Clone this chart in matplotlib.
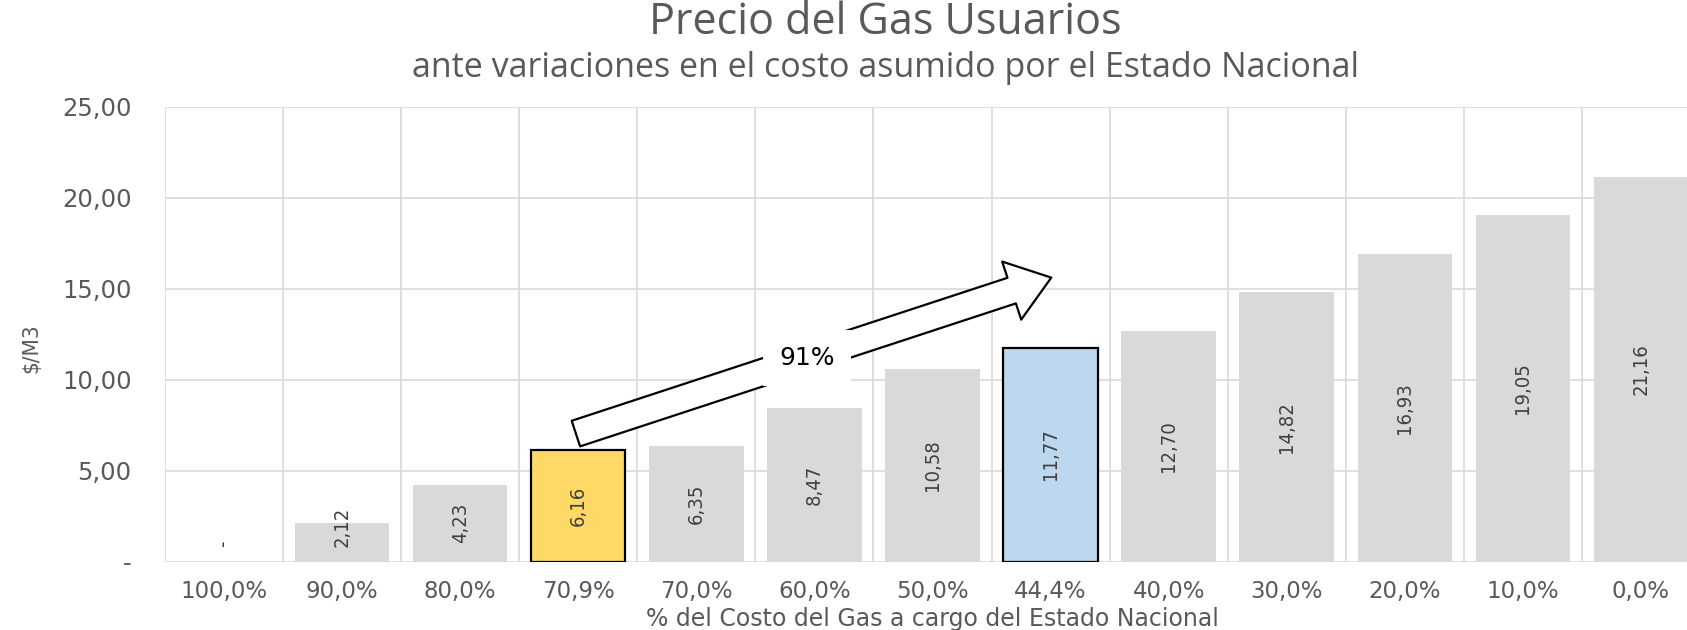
import numpy as np
import matplotlib.pyplot as plt
from matplotlib.patches import FancyArrowPatch

# --- Data --- #
categories = ['100,0%', '90,0%', '80,0%', '70,9%', '70,0%', '60,0%', '50,0%',
              '44,4%', '40,0%', '30,0%', '20,0%', '10,0%', '0,0%']
precios = [0.00, 2.12, 4.23, 6.16, 6.35, 8.47, 10.58, 11.77, 12.70, 14.82, 16.93, 19.05, 21.16]
bar_labels = ['-', '2,12', '4,23', '6,16', '6,35', '8,47', '10,58', '11,77',
              '12,70', '14,82', '16,93', '19,05', '21,16']
y_ticks = [0, 5, 10, 15, 20, 25]
y_tick_labels = ['-', '5,00', '10,00', '15,00', '20,00', '25,00']
idx_actual = 3      # 70,9% (yellow)
idx_nuevo = 7       # 44,4% (blue)
variacion = '91%'

gris_texto = '#595959'
gris_barra = '#D9D9D9'

# --- Figure --- #
fig = plt.figure(figsize=(16.87, 6.30), dpi=100)
ax = fig.add_axes([0.0978, 0.1084, 0.9099, 0.7222])

x = np.arange(len(categories))
colors = [gris_barra] * len(categories)
colors[idx_actual] = '#FFD966'
colors[idx_nuevo] = '#BDD7EE'
edges = ['none'] * len(categories)
edges[idx_actual] = 'black'
edges[idx_nuevo] = 'black'

bars = ax.bar(x, precios, width=0.8, color=colors, edgecolor=edges, linewidth=1.6, zorder=2)

# --- Bar labels (centred, kept inside the plot for short bars) --- #
for i, (v, lab) in enumerate(zip(precios, bar_labels)):
    y_lab = max(v / 2, 1.9) if v > 0 else 1.0
    ax.text(i, y_lab, lab, rotation=90, ha='center', va='center', fontsize=14.5,
            family='DejaVu Sans', fontstretch='condensed', color='#404040', zorder=4)

# --- Axes --- #
ax.set_xlim(-0.5, len(categories) - 0.5)
ax.set_ylim(0, 25)
ax.set_xticks(x)
ax.set_xticklabels(categories, fontsize=16.5, color=gris_texto)
ax.set_xticks(np.arange(-0.5, len(categories), 1), minor=True)
ax.set_yticks(y_ticks)
ax.set_yticklabels(y_tick_labels, fontsize=17.5, color=gris_texto)
ax.tick_params(axis='both', which='both', length=0)
ax.tick_params(axis='y', pad=24)
ax.tick_params(axis='x', pad=13)
ax.grid(axis='y', which='major', color=gris_barra, linewidth=1.2)
ax.grid(axis='x', which='minor', color=gris_barra, linewidth=1.2)
ax.grid(axis='x', which='major', visible=False)
ax.set_axisbelow(True)
for s in ax.spines.values():
    s.set_visible(False)

ax.set_xlabel('% del Costo del Gas a cargo del Estado Nacional', fontsize=17, color=gris_texto, va='center')
ax.xaxis.set_label_coords(0.5, -0.127)
ax.set_ylabel('$/M3', fontsize=16, color=gris_texto, fontstretch='condensed', va='center')
ax.yaxis.set_label_coords(-0.087, 0.47)

# --- Titles --- #
fig.text(0.525, 0.964, 'Precio del Gas Usuarios', ha='center', va='center',
         fontsize=31, family='Open Sans', color=gris_texto)
fig.text(0.525, 0.892, 'ante variaciones en el costo asumido por el Estado Nacional',
         ha='center', va='center', fontsize=24.5, family='Open Sans', color=gris_texto)

# --- Arrow 70,9% -> 44,4% --- #
arrow = FancyArrowPatch((idx_actual - 0.02, precios[idx_actual] + 0.88),
                        (idx_nuevo + 0.006, precios[idx_nuevo] + 3.84),
                        arrowstyle='simple,head_length=30,head_width=44,tail_width=19.4',
                        mutation_scale=1, shrinkA=0, shrinkB=0,
                        fc='white', ec='black', linewidth=1.6, zorder=5)
ax.add_patch(arrow)
ax.text(4.937, 11.19, variacion, ha='center', va='center', fontsize=18, color='black', zorder=6,
        bbox=dict(boxstyle='square,pad=0.65', fc='white', ec='none'))

fig.savefig('out.png', dpi=100)
